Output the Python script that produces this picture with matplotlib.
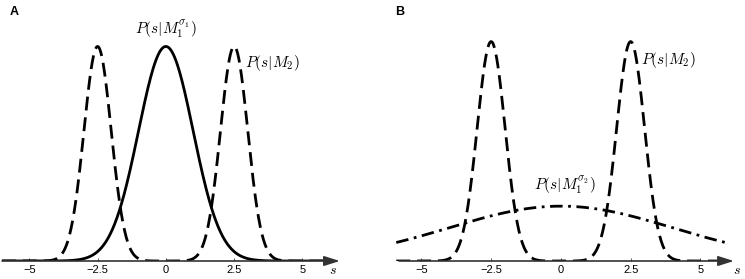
import numpy as np
import matplotlib
matplotlib.use('Agg')
import matplotlib.pyplot as plt

plt.rcParams['font.family'] = ['Liberation Sans', 'DejaVu Sans']
plt.rcParams['mathtext.fontset'] = 'cm'

# curve parameters
tick_vals = [-5, -2.5, 0, 2.5, 5]
tick_labels = ['\u22125', '\u22122.5', '0', '2.5', '5']
m2_means = [-2.5, 2.5]   # two bumps of P(s|M2)
m2_sigma = 0.5
m1_sigma_a = 1.0         # panel A, sigma_1
m1_sigma_b = 4.0         # panel B, sigma_2


def gauss(x, mu, sd):
    return np.exp(-(x - mu) ** 2 / (2 * sd ** 2)) / (sd * np.sqrt(2 * np.pi))


def mix(x):
    return sum(0.5 * gauss(x, m, m2_sigma) for m in m2_means)


fig = plt.figure(figsize=(7.45, 2.79), dpi=100)


def setup(ax, xlim, ylim, x0, x1, slab):
    ax.set_xlim(*xlim)
    ax.set_ylim(*ylim)
    for sp in ax.spines.values():
        sp.set_visible(False)
    ax.set_yticks([])
    ax.set_xticks(tick_vals)
    ax.set_xticklabels(tick_labels, fontsize=8)
    ax.tick_params(axis='x', direction='in', length=2, width=0.6, pad=3, color='#444444')
    ax.annotate('', xy=(x1, 0), xytext=(x0, 0), annotation_clip=False,
                arrowprops=dict(arrowstyle='-|>,head_length=0.95,head_width=0.3',
                                mutation_scale=10, color='#333333', lw=1.2,
                                shrinkA=0, shrinkB=0))
    ax.text(slab, -0.024, '$s$', fontsize=10, ha='center', va='baseline', clip_on=False)


# ---- panel A
axA = fig.add_axes([2 / 745, 18 / 279, 343 / 745, 242 / 279])
setup(axA, (-6.0, 6.56), (0, 0.45), -6.0, 6.37, 6.12)
xa = np.linspace(-6, 6, 600)
axA.plot(xa, mix(xa), color='black', lw=2, ls=(0, (5, 2.5)))
axA.plot(xa, gauss(xa, 0, m1_sigma_a), color='black', lw=2)
axA.text(0, 0.43, r'$P(s|M_1^{\sigma_1})$', fontsize=11, ha='center', va='center')
axA.text(2.9, 0.368, r'$P(s|M_2)$', fontsize=11, ha='left', va='center')
fig.text(10 / 745, 1 - 12 / 279, 'A', fontsize=9, fontweight='bold', va='center')

# ---- panel B
axB = fig.add_axes([396 / 745, 18 / 279, 344 / 745, 242 / 279])
setup(axB, (-5.91, 6.42), (0, 0.44), -5.8, 6.2, 6.3)
xb = np.linspace(-5.9, 5.95, 600)
axB.plot(xb, mix(xb), color='black', lw=2, ls=(0, (5, 2.5)))
axB.plot(xb, gauss(xb, 0, m1_sigma_b), color='black', lw=2, ls=(0, (4.5, 2, 1, 2)))
axB.text(2.87, 0.365, r'$P(s|M_2)$', fontsize=11, ha='left', va='center')
axB.text(0.14, 0.136, r'$P(s|M_1^{\sigma_2})$', fontsize=11, ha='center', va='center')
fig.text(395 / 745, 1 - 12 / 279, 'B', fontsize=9, fontweight='bold', va='center')

fig.savefig('out.png', dpi=100)
